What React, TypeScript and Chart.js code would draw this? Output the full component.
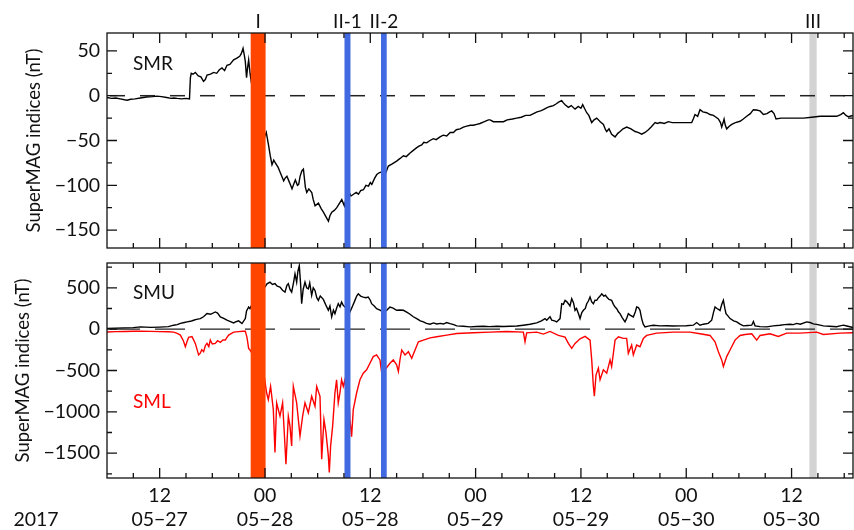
import React, { useEffect, useRef } from 'react';
import { Chart, registerables } from 'chart.js';

Chart.register(...registerables);

// ---- time axis (hours since 2017-05-27 06:00 UT) ----
const xMin = 0;
const xMax = 85;
const xMinorHours = [3, 6, 9, 12, 15, 18, 21, 24, 27, 30, 33, 36, 39, 42, 45, 48, 51, 54, 57, 60, 63, 66, 69, 72, 75, 78, 81, 84];
const xMajorHours = [6, 18, 30, 42, 54, 66, 78];
const xMajorTime = ['12', '00', '12', '00', '12', '00', '12'];
const xMajorDate = ['05−27', '05−28', '05−28', '05−29', '05−29', '05−30', '05−30'];
const yearLabel = '2017';

// ---- y axes ----
const smrRange = [-170, 70];
const smrMajorTicks = [-150, -100, -50, 0, 50];
const smrMinorTicks = [-150, -125, -100, -75, -50, -25, 0, 25, 50];
const smulRange = [-1800, 800];
const smulMajorTicks = [-1500, -1000, -500, 0, 500];
const smulMinorTicks = [-1750, -1500, -1250, -1000, -750, -500, -250, 0, 250, 500, 750];
const yTitle = 'SuperMAG indices (nT)';

// ---- event bands ----
const bandNames = ['I', 'II-1', 'II-2', 'III'];
const bandStart = [16.37, 27.06, 31.22, 80.03];
const bandEnd = [18.07, 27.74, 31.87, 80.86];
const bandColors = ['#FF4500', '#4169E1', '#4169E1', '#D3D3D3'];
const bandOnTop = [true, true, true, false];

// ---- series: [hour, nT] ----
const smrPoints: [number, number][] = [
  [0, -2], [0.5, -3], [1.0, -2.5], [1.5, -3.5], [2.0, -4.5], [2.3, -5], [2.7, -4], [3.2, -3.5], [3.8, -2.5], [4.5, -1.5],
  [5.2, -1], [5.7, -0.5], [6.2, -1], [6.8, -2], [7.3, -3], [7.6, -2.5], [8.0, -3], [8.5, -3.5], [9.0, -3], [9.4, -3.5],
  [9.5, 20], [9.6, 25], [9.8, 24], [10.06, 26], [10.4, 22], [10.7, 21], [11.0, 16], [11.2, 18], [11.4, 23], [11.8, 24],
  [12.15, 26], [12.5, 25], [12.8, 29], [13.1, 31], [13.4, 28], [13.67, 34], [14.0, 35], [14.43, 40], [14.8, 42], [15.12, 44],
  [15.3, 47], [15.5, 53], [15.65, 45], [15.76, 38], [15.9, 20], [16.0, 30], [16.14, 40], [16.3, 25], [16.4, 18], [16.71, -1],
  [16.9, -8], [17.09, -12], [17.28, -26], [17.47, -51], [17.85, -49], [18.15, -41], [18.4, -55], [18.6, -67], [18.8, -77], [19.0, -72],
  [19.18, -75], [19.5, -80], [19.75, -86], [20.13, -95], [20.3, -92], [20.5, -90], [20.8, -97], [21.08, -104], [21.3, -98], [21.46, -94],
  [21.7, -100], [21.84, -99], [22.0, -90], [22.2, -84], [22.38, -82], [22.6, -102], [22.76, -108], [23.0, -104], [23.33, -108], [23.5, -116],
  [23.71, -123], [24.09, -120], [24.4, -126], [24.66, -130], [25.0, -136], [25.23, -140], [25.4, -134], [25.61, -130], [25.9, -128], [26.18, -125],
  [26.5, -120], [26.75, -116], [27.05, -123], [27.3, -112], [27.51, -106], [27.8, -112], [28.08, -110], [28.4, -108], [28.65, -110], [28.9, -106],
  [29.22, -105], [29.5, -100], [29.79, -101], [30.0, -97], [30.17, -99], [30.5, -92], [30.74, -88], [31.0, -86], [31.3, -85], [31.5, -90],
  [31.68, -88], [32.06, -78.5], [32.5, -76], [33.0, -73], [33.4, -70], [33.77, -67], [34.1, -68], [34.53, -64], [34.9, -61], [35.29, -58],
  [35.6, -56], [35.86, -55], [36.1, -52], [36.43, -52.6], [36.8, -50], [37.19, -48], [37.5, -49], [37.95, -46], [38.3, -44], [38.71, -45],
  [39.1, -41], [39.47, -41], [39.8, -38], [40.23, -37], [40.61, -35], [40.99, -34], [41.4, -33], [41.75, -33], [42.13, -32], [42.5, -31],
  [43.0, -29], [43.46, -27], [43.65, -27], [44.03, -29], [44.5, -29], [45.17, -29], [45.6, -27], [46.2, -26], [46.68, -25], [47.2, -24],
  [47.7, -22], [48.2, -22], [48.6, -20], [49.0, -18], [49.4, -17], [49.72, -15.6], [50.2, -13], [50.5, -12], [50.86, -11], [51.2, -9],
  [51.5, -7], [51.81, -5.6], [52.0, -8], [52.2, -10], [52.57, -13], [52.9, -11], [53.33, -15], [53.7, -12], [54.0, -14], [54.2, -10],
  [54.4, -14], [54.66, -19], [54.9, -22], [55.23, -30], [55.5, -27], [55.8, -25], [56.2, -29], [56.56, -32], [56.8, -38], [56.94, -40],
  [57.2, -37], [57.5, -43], [57.89, -46], [58.2, -42], [58.46, -40], [58.8, -37], [59.22, -35], [59.7, -37], [60.17, -40], [60.5, -41],
  [60.93, -43], [61.3, -41], [61.69, -38], [62.0, -35], [62.45, -30], [62.7, -31], [63.02, -30], [63.5, -31], [63.96, -29], [64.4, -30],
  [64.91, -30], [65.5, -30], [66.1, -30], [66.62, -30], [66.8, -26], [67.0, -21], [67.3, -23], [67.57, -15.6], [67.9, -18], [68.33, -19],
  [68.7, -21], [69.09, -22], [69.4, -24], [69.66, -26], [69.9, -30], [70.04, -35], [70.2, -30], [70.31, -26], [70.45, -33], [70.61, -37],
  [70.9, -34], [71.18, -32], [71.6, -30], [72.13, -28.5], [72.5, -26], [72.89, -23], [73.3, -20], [73.65, -15.6], [74.0, -16], [74.41, -17],
  [74.79, -21], [75.2, -20], [75.5, -18], [75.74, -17], [76.0, -20], [76.23, -26], [76.8, -25], [77.45, -25], [78.4, -25], [79.35, -25],
  [80.3, -24], [81.25, -23], [82.2, -23], [83.14, -23], [83.6, -21], [83.9, -19], [84.2, -22], [84.47, -23.5], [85.0, -22],
];

const smuPoints: [number, number][] = [
  [0, 10], [1, 12], [2, 15], [3, 18], [3.8, 28], [5, 22], [6, 25], [7, 30], [7.6, 48], [8, 55],
  [8.36, 70], [8.8, 80], [9.12, 88], [9.5, 95], [9.87, 108], [10.2, 118], [10.63, 128], [11.0, 150], [11.39, 188], [11.8, 180],
  [12.34, 208], [12.6, 195], [12.91, 148], [13.3, 130], [13.67, 108], [14.0, 95], [14.43, 76], [14.7, 90], [15.0, 100], [15.38, 68],
  [15.76, 128], [15.9, 220], [16.14, 268], [16.29, 248], [16.52, 300], [16.71, 316], [16.86, 428], [17.09, 468], [17.24, 488], [17.47, 388],
  [17.62, 368], [17.85, 508], [18.0, 508], [18.23, 548], [18.57, 568], [18.85, 540], [19.14, 550], [19.4, 520], [19.71, 508], [20.0, 470],
  [20.28, 448], [20.5, 530], [20.66, 550], [20.85, 480], [21.04, 448], [21.25, 560], [21.42, 668], [21.61, 568], [21.75, 700], [21.91, 768],
  [22.05, 560], [22.18, 308], [22.35, 480], [22.56, 568], [22.75, 500], [22.94, 488], [23.1, 560], [23.32, 408], [23.5, 500], [23.7, 468],
  [23.9, 380], [24.08, 348], [24.3, 400], [24.65, 360], [24.9, 300], [25.22, 228], [25.4, 280], [25.6, 148], [25.8, 230], [25.97, 188],
  [26.15, 250], [26.35, 308], [26.55, 270], [26.73, 328], [26.9, 290], [27.11, 268], [27.4, 240], [27.68, 208], [27.9, 260], [28.25, 348],
  [28.45, 400], [28.63, 428], [28.9, 400], [29.2, 388], [29.5, 380], [29.77, 388], [30.0, 350], [30.15, 308], [30.45, 280], [30.72, 248],
  [31.1, 230], [31.48, 208], [31.86, 228], [32.24, 268], [32.6, 255], [33.0, 228], [33.38, 232], [33.77, 228], [34.15, 205], [34.53, 180],
  [34.9, 150], [35.29, 128], [35.7, 100], [36.05, 88], [36.4, 70], [36.81, 60], [37.2, 75], [37.57, 62], [38.0, 70], [38.33, 62],
  [38.7, 80], [39.09, 66], [39.5, 55], [39.85, 40], [40.6, 35], [41.37, 28], [42.1, 32], [42.88, 35], [43.6, 30], [44.4, 35],
  [45.2, 32], [45.92, 35], [46.7, 38], [47.44, 48], [48.2, 60], [48.96, 76], [49.5, 100], [49.91, 128], [50.1, 108], [50.48, 150],
  [50.67, 110], [51.0, 100], [51.24, 88], [51.62, 128], [51.81, 308], [52.0, 300], [52.19, 348], [52.4, 330], [52.57, 308], [52.75, 280],
  [52.95, 368], [53.15, 320], [53.33, 228], [53.5, 250], [53.71, 188], [53.9, 128], [54.1, 200], [54.28, 228], [54.5, 250], [54.66, 308],
  [54.85, 340], [55.04, 388], [55.23, 330], [55.42, 308], [55.6, 350], [55.8, 348], [56.0, 380], [56.18, 400], [56.37, 428], [56.6, 400],
  [56.8, 410], [56.94, 388], [57.2, 360], [57.5, 348], [57.7, 300], [57.89, 268], [58.08, 248], [58.27, 210], [58.45, 188], [58.7, 140],
  [59.02, 88], [59.21, 130], [59.4, 188], [59.6, 170], [59.97, 148], [60.2, 210], [60.35, 268], [60.55, 260], [60.73, 228], [60.92, 128],
  [61.1, 60], [61.3, 28], [61.8, 40], [62.25, 48], [63.0, 40], [63.77, 42], [64.5, 38], [65.29, 40], [66.0, 42], [66.81, 48],
  [67.19, 80], [67.57, 48], [67.95, 60], [68.5, 70], [68.9, 108], [69.1, 200], [69.28, 268], [69.5, 250], [69.66, 240], [69.85, 225],
  [70.05, 300], [70.23, 348], [70.4, 250], [70.53, 188], [70.75, 160], [70.99, 128], [71.4, 100], [71.75, 88], [72.13, 60], [72.51, 40],
  [73.0, 45], [73.46, 48], [73.65, 92], [73.84, 40], [74.4, 30], [75.17, 28], [75.9, 40], [76.68, 48], [77.2, 55], [77.82, 60],
  [78.2, 55], [78.58, 70], [79.0, 60], [79.72, 88], [80.1, 80], [80.48, 64], [81.0, 55], [81.62, 40], [82.3, 35], [83.14, 30],
  [83.52, 40], [83.9, 48], [84.3, 38], [85, 20],
];

const smlPoints: [number, number][] = [
  [0, -35], [1, -30], [2, -28], [3, -25], [3.8, -24], [5, -27], [6, -30], [7, -32], [7.6, -36], [8.0, -50],
  [8.36, -72], [8.7, -140], [8.93, -212], [9.12, -150], [9.3, -100], [9.68, -90], [9.87, -130], [10.06, -172], [10.3, -260], [10.44, -312],
  [10.63, -290], [10.8, -250], [11.01, -272], [11.2, -200], [11.39, -172], [11.6, -210], [11.77, -132], [12.0, -180], [12.34, -172], [12.6, -140],
  [12.91, -160], [13.2, -130], [13.48, -132], [13.67, -100], [13.86, -72], [14.43, -36], [15.0, -30], [15.5, -25], [15.76, -24], [15.95, -100],
  [16.14, -232], [16.29, -252], [16.52, -292], [16.67, -412], [17.05, -672], [17.43, -532], [17.81, -492], [18.19, -772], [18.38, -852], [18.64, -692],
  [18.95, -972], [19.14, -1492], [19.33, -892], [19.71, -1052], [20.01, -892], [20.2, -1252], [20.39, -1632], [20.66, -1052], [20.85, -1172], [21.04, -1412],
  [21.23, -692], [21.61, -892], [21.99, -1292], [22.29, -1052], [22.56, -892], [22.94, -1012], [23.32, -812], [23.7, -932], [23.89, -692], [24.27, -812],
  [24.46, -1572], [24.72, -1092], [24.95, -1252], [25.22, -1532], [25.33, -1732], [25.48, -1412], [25.71, -1172], [25.97, -772], [26.16, -612], [26.35, -892],
  [26.54, -772], [26.73, -612], [26.92, -692], [27.11, -612], [27.3, -852], [27.49, -572], [27.68, -1092], [27.87, -1300], [28.06, -972], [28.44, -772],
  [28.82, -612], [29.2, -532], [29.58, -492], [29.96, -412], [30.34, -332], [30.72, -312], [31.1, -372], [31.41, -612], [31.67, -492], [32.24, -412],
  [32.62, -372], [33.0, -432], [33.2, -512], [33.38, -372], [33.58, -252], [33.96, -312], [34.34, -272], [34.72, -352], [35.1, -252], [35.48, -152],
  [36.05, -132], [36.81, -105], [37.57, -92], [38.71, -72], [39.85, -52], [41.74, -44], [43.64, -36], [45.54, -28], [47.44, -36], [47.63, -152],
  [47.82, -44], [48.96, -36], [49.72, -60], [50.48, -28], [51.43, -76], [52.19, -96], [52.57, -172], [52.95, -232], [53.33, -172], [53.9, -116],
  [54.47, -88], [55.04, -132], [55.23, -372], [55.42, -692], [55.53, -812], [55.72, -552], [55.99, -472], [56.18, -612], [56.56, -492], [56.94, -532],
  [57.32, -372], [57.5, -452], [57.89, -132], [58.27, -92], [58.83, -112], [59.21, -112], [59.4, -292], [59.78, -192], [59.97, -312], [60.35, -192],
  [60.73, -212], [61.11, -112], [61.49, -76], [62.63, -48], [64.53, -36], [66.43, -36], [67.57, -56], [68.71, -76], [69.28, -152], [69.66, -272],
  [70.04, -372], [70.23, -452], [70.61, -332], [70.99, -252], [71.56, -132], [72.13, -76], [72.7, -64], [73.46, -56], [74.03, -132], [74.41, -76],
  [75.55, -56], [76.49, -88], [77.44, -48], [78.96, -48], [80.86, -36], [81.62, -64], [83.52, -48], [85, -44],
];

const FONT = 'Lato, "Noto Sans", sans-serif';
const TICK_SIZE = 19.5;
const fmt = (v: number) => (v < 0 ? '−' + Math.abs(v) : String(v));

type PanelCfg = {
  key: string;
  majorY: number[];
  minorY: number[];
  dash: number[];
  dashOffset: number;
  dashWidth: number;
  titleX: number;
  texts: { t: string; x: number; y: number; c: string }[];
  bandLabels: boolean;
  year: boolean;
};

function panelPlugin(cfg: PanelCfg) {
  const drawBands = (chart: any, top: boolean) => {
    const { ctx, chartArea: a, scales } = chart;
    const x = scales.x;
    ctx.save();
    ctx.beginPath();
    ctx.rect(a.left, a.top, a.width, a.height);
    ctx.clip();
    for (let i = 0; i < bandNames.length; i++) {
      if (bandOnTop[i] !== top) continue;
      const x0 = x.getPixelForValue(bandStart[i]);
      const x1 = x.getPixelForValue(bandEnd[i]);
      ctx.fillStyle = bandColors[i];
      ctx.fillRect(x0, a.top, x1 - x0, a.height);
    }
    ctx.restore();
  };
  return {
    id: 'panel' + cfg.key,
    beforeDatasetsDraw(chart: any) {
      const { ctx, chartArea: a, scales } = chart;
      drawBands(chart, false);
      const y0 = scales.y.getPixelForValue(0);
      ctx.save();
      ctx.strokeStyle = '#222';
      ctx.lineWidth = cfg.dashWidth;
      ctx.setLineDash(cfg.dash);
      ctx.lineDashOffset = cfg.dashOffset;
      ctx.beginPath();
      ctx.moveTo(a.left, y0);
      ctx.lineTo(a.right, y0);
      ctx.stroke();
      ctx.restore();
    },
    afterDatasetsDraw(chart: any) {
      const { ctx, chartArea: a, scales } = chart;
      const x = scales.x;
      const y = scales.y;
      drawBands(chart, true);
      ctx.save();
      ctx.strokeStyle = '#111';
      ctx.lineWidth = 1.3;
      ctx.strokeRect(a.left, a.top, a.width, a.height);
      ctx.beginPath();
      for (const h of xMinorHours) {
        const px = x.getPixelForValue(h);
        const len = xMajorHours.includes(h) ? 10 : 5;
        ctx.moveTo(px, a.bottom);
        ctx.lineTo(px, a.bottom - len);
        ctx.moveTo(px, a.top);
        ctx.lineTo(px, a.top + len);
      }
      for (const v of cfg.minorY) {
        const py = y.getPixelForValue(v);
        const len = cfg.majorY.includes(v) ? 10 : 5;
        ctx.moveTo(a.left, py);
        ctx.lineTo(a.left + len, py);
        ctx.moveTo(a.right, py);
        ctx.lineTo(a.right - len, py);
      }
      ctx.stroke();

      // y title
      ctx.fillStyle = '#111';
      ctx.font = '18.5px ' + FONT;
      ctx.textAlign = 'center';
      ctx.textBaseline = 'alphabetic';
      ctx.save();
      ctx.translate(cfg.titleX, (a.top + a.bottom) / 2);
      ctx.rotate(-Math.PI / 2);
      ctx.fillText(yTitle, 0, 0);
      ctx.restore();

      // in-panel labels
      ctx.font = '19px ' + FONT;
      ctx.textAlign = 'left';
      for (const tx of cfg.texts) {
        ctx.fillStyle = tx.c;
        ctx.fillText(tx.t, tx.x, tx.y);
      }

      if (cfg.bandLabels) {
        ctx.fillStyle = '#111';
        ctx.textAlign = 'center';
        ctx.font = '19px ' + FONT;
        for (let i = 0; i < bandNames.length; i++) {
          const cx = (x.getPixelForValue(bandStart[i]) + x.getPixelForValue(bandEnd[i])) / 2;
          ctx.fillText(bandNames[i], cx, a.top - 4.7);
        }
      }
      if (cfg.year) {
        ctx.fillStyle = '#111';
        ctx.textAlign = 'center';
        ctx.textBaseline = 'middle';
        ctx.font = TICK_SIZE + 'px ' + FONT;
        ctx.fillText(yearLabel, 36, a.bottom + 6 + 12 + 24);
      }
      ctx.restore();
    },
  };
}

const zeroPad = (s: any) => {
  s.paddingTop = 0;
  s.paddingBottom = 0;
  s.paddingLeft = 0;
  s.paddingRight = 0;
};

function makeConfig(
  datasets: any[],
  range: number[],
  cfg: PanelCfg,
  showX: boolean,
  padding: any
): any {
  return {
    type: 'line',
    data: { datasets },
    options: {
      animation: false,
      responsive: false,
      devicePixelRatio: 1,
      layout: { padding },
      plugins: { legend: { display: false }, tooltip: { enabled: false } },
      elements: { point: { radius: 0 }, line: { tension: 0 } },
      scales: {
        x: {
          type: 'linear',
          min: xMin,
          max: xMax,
          display: showX,
          grid: { display: false, drawTicks: false },
          border: { display: false },
          afterBuildTicks: (s: any) => {
            s.ticks = xMinorHours.map((v) => ({ value: v }));
          },
          afterFit: (s: any) => {
            s.height = showX ? 52 : 0;
            zeroPad(s);
          },
          ticks: {
            autoSkip: false,
            maxRotation: 0,
            minRotation: 0,
            padding: 6,
            color: '#111',
            font: { family: FONT, size: TICK_SIZE, lineHeight: 24 / TICK_SIZE },
            callback: (v: number) => {
              const i = xMajorHours.indexOf(v);
              return i >= 0 ? [xMajorTime[i], xMajorDate[i]] : '';
            },
          },
        },
        y: {
          type: 'linear',
          min: range[0],
          max: range[1],
          grid: { display: false, drawTicks: false },
          border: { display: false },
          afterBuildTicks: (s: any) => {
            s.ticks = cfg.minorY.map((v) => ({ value: v }));
          },
          afterFit: (s: any) => {
            s.width = 107;
            zeroPad(s);
          },
          ticks: {
            autoSkip: false,
            padding: 7,
            color: '#111',
            font: { family: FONT, size: TICK_SIZE },
            callback: (v: number) => (cfg.majorY.includes(v) ? fmt(v) : ''),
          },
        },
      },
    },
    plugins: [panelPlugin(cfg)],
  };
}

const toXY = (pts: [number, number][]) => pts.map(([x, y]) => ({ x, y }));

export default function App() {
  const topRef = useRef<HTMLCanvasElement>(null);
  const botRef = useRef<HTMLCanvasElement>(null);

  useEffect(() => {
    const topCfg: PanelCfg = {
      key: 'top',
      majorY: smrMajorTicks,
      minorY: smrMinorTicks,
      dash: [15, 15],
      dashOffset: 27,
      dashWidth: 1.5,
      titleX: 40,
      texts: [{ t: 'SMR', x: 133, y: 70, c: '#111' }],
      bandLabels: true,
      year: false,
    };
    const botCfg: PanelCfg = {
      key: 'bot',
      majorY: smulMajorTicks,
      minorY: smulMinorTicks,
      dash: [30, 15],
      dashOffset: 42,
      dashWidth: 1.3,
      titleX: 28.5,
      texts: [
        { t: 'SMU', x: 133, y: 44.3, c: '#111' },
        { t: 'SML', x: 133, y: 153, c: '#FF0000' },
      ],
      bandLabels: false,
      year: true,
    };
    const c1 = new Chart(
      topRef.current!,
      makeConfig(
        [{ data: toXY(smrPoints), borderColor: '#000', borderWidth: 1.4 }],
        smrRange,
        topCfg,
        false,
        { top: 33, bottom: 7, left: 0, right: 1 }
      )
    );
    const c2 = new Chart(
      botRef.current!,
      makeConfig(
        [
          { data: toXY(smuPoints), borderColor: '#000', borderWidth: 1.4 },
          { data: toXY(smlPoints), borderColor: '#FF0000', borderWidth: 1.4 },
        ],
        smulRange,
        botCfg,
        true,
        { top: 8, bottom: 0, left: 0, right: 1 }
      )
    );
    return () => {
      c1.destroy();
      c2.destroy();
    };
  }, []);

  return (
    <div style={{ position: 'fixed', left: 0, top: 0, width: 854, height: 530, background: '#fff' }}>
      <canvas ref={topRef} width={854} height={255} style={{ position: 'absolute', left: 0, top: 0, width: 854, height: 255 }} />
      <canvas ref={botRef} width={854} height={275} style={{ position: 'absolute', left: 0, top: 255, width: 854, height: 275 }} />
    </div>
  );
}
